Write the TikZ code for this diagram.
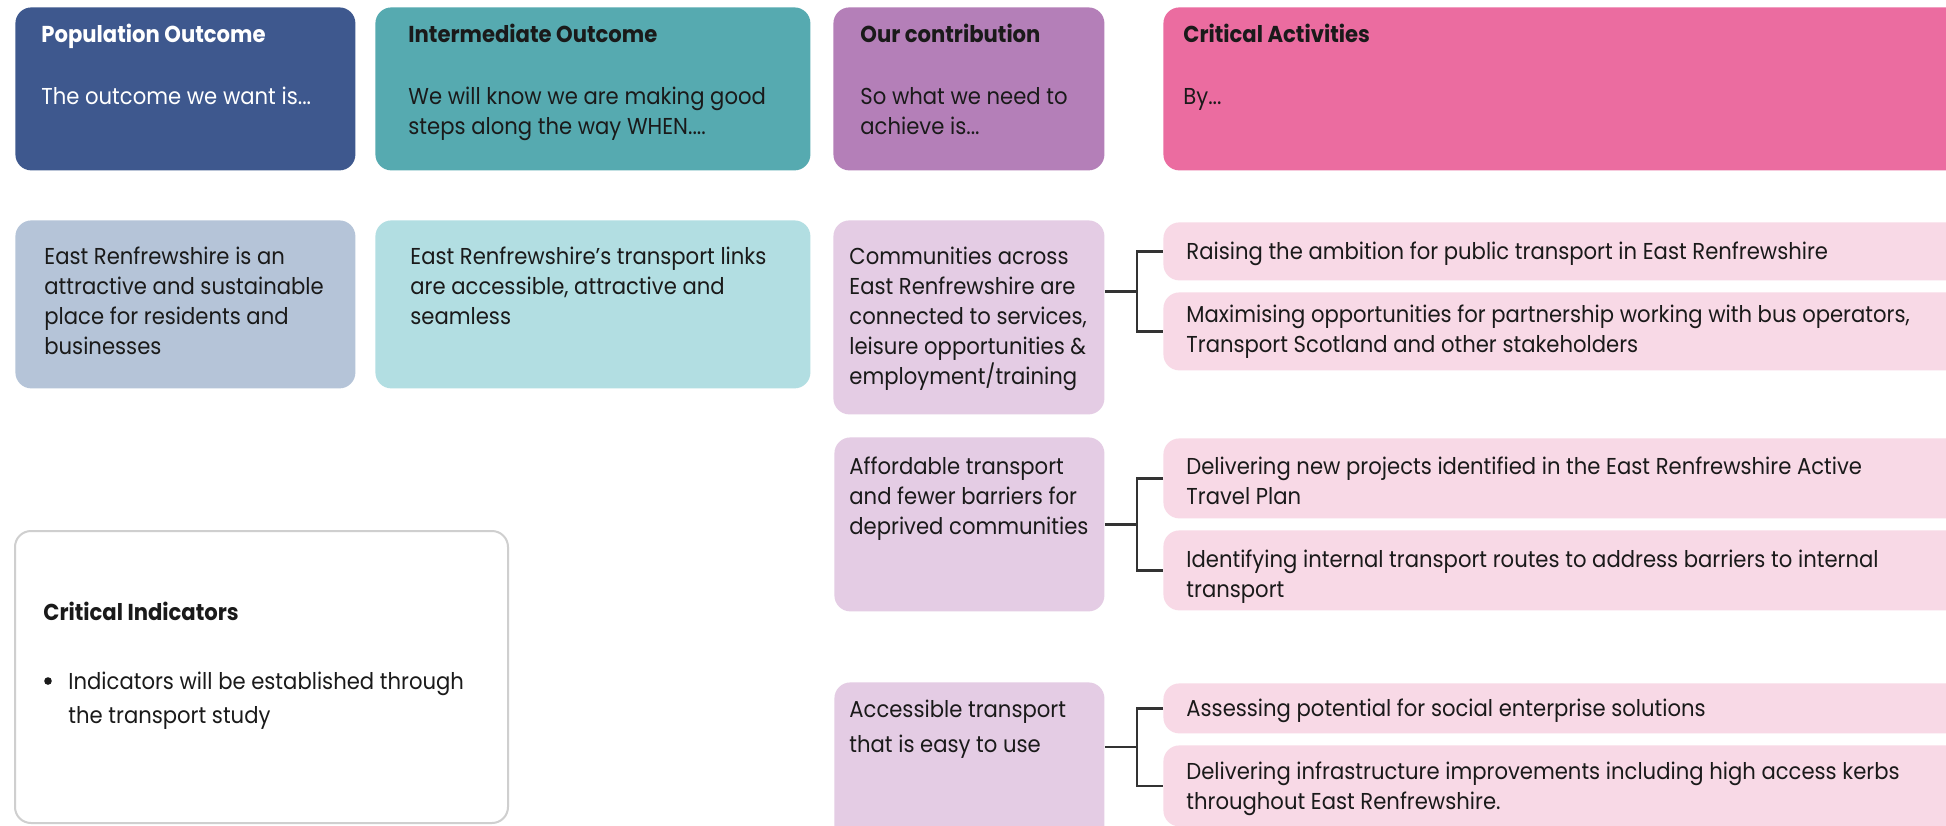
\documentclass[tikz,border=0pt]{standalone}
\usepackage{fontspec}
\setmainfont{Poppins}[FakeStretch=0.92]
\usetikzlibrary{calc}

\definecolor{popdark}{HTML}{3E588E}
\definecolor{intdark}{HTML}{56AAB0}
\definecolor{condark}{HTML}{B47FB8}
\definecolor{actdark}{HTML}{EB6CA0}
\definecolor{poplight}{HTML}{B5C4D8}
\definecolor{intlight}{HTML}{B2DEE2}
\definecolor{conlight}{HTML}{E4CCE4}
\definecolor{actlight}{HTML}{F8D9E6}
\definecolor{ink}{HTML}{1A1A1A}
\definecolor{rimgrey}{HTML}{CFCFCF}
\definecolor{linkgrey}{HTML}{333333}

\newcommand\bodyfont{\fontsize{11.5}{15}\selectfont}
% a rounded panel given by its corners (x1,y1)-(x2,y2) in picture units
\newcommand\panel[7][]{\node[panelbox, fill=#7, minimum width={(#4-#2)*0.5pt},
  minimum height={(#5-#3)*0.5pt}, #1] (#6) at (#2,#3) {};}

\begin{document}
\begin{tikzpicture}[x=0.5pt, y=-0.5pt,
  panelbox/.style={rectangle, rounded corners=8pt, inner sep=0pt, anchor=north west, draw=none},
  txt/.style={anchor=north west, inner sep=0pt, align=left, font=\bodyfont, text=ink},
  head/.style={txt, font=\bodyfont\bfseries},
  link/.style={draw=linkgrey, line width=1.1pt}]

\fill[white] (0,0) rectangle (1946,825);
\useasboundingbox (0,0) rectangle (1946,825);

% header row
\panel{15}{7}{355}{170}{popH}{popdark}
\panel{375}{7}{810}{170}{intH}{intdark}
\panel{833}{7}{1104}{170}{conH}{condark}
\panel{1163}{7}{1985}{170}{actH}{actdark}

\node[head, text=white] (popT) at (41,21.5) {\strut Population Outcome};
\node[txt, text=white] (popS) at (41,83.5) {\strut The outcome we want is...};
\node[head] (intT) at (408,21.5) {\strut Intermediate Outcome};
\node[txt] (intS) at (408,83.5) {\strut We will know we are making good\\ steps along the way WHEN....};
\node[head] (conT) at (860,21.5) {\strut Our contribution};
\node[txt] (conS) at (860,83.5) {\strut So what we need to\\ achieve is...};
\node[head] (actT) at (1183,21.5) {\strut Critical Activities};
\node[txt] (actS) at (1183,83.5) {\strut By...};

% outcome row
\panel{15}{220}{355}{388}{popB}{poplight}
\panel{375}{220}{810}{388}{intB}{intlight}
\node[txt] (popBt) at (44,243.5) {\strut East Renfrewshire is an\\ attractive and sustainable\\ place for residents and\\ businesses};
\node[txt] (intBt) at (410,243.5) {\strut East Renfrewshire’s transport links\\ are accessible, attractive and\\ seamless};

% contributions
\panel{833}{220}{1104}{414}{con1}{conlight}
\panel{834}{437}{1104}{611}{con2}{conlight}
\panel{834}{682}{1104}{870}{con3}{conlight}
\node[txt] (con1t) at (849,243.5) {\strut Communities across\\ East Renfrewshire are\\ connected to services,\\ leisure opportunities \&\\ employment/training};
\node[txt] (con2t) at (849,453.5) {\strut Affordable transport\\ and fewer barriers for\\ deprived communities};
\node[txt] (con3t) at (849,696.5) {\strut Accessible transport\\[2.5pt] that is easy to use};

% activities
\panel{1163}{222}{1985}{280}{a1}{actlight}
\panel{1163}{292}{1985}{370}{a2}{actlight}
\panel{1163}{438}{1985}{518}{a3}{actlight}
\panel{1163}{530}{1985}{610}{a4}{actlight}
\panel{1163}{683}{1985}{733}{a5}{actlight}
\panel{1163}{745}{1985}{826}{a6}{actlight}
\node[txt] (a1t) at (1186,238.5) {\strut Raising the ambition for public transport in East Renfrewshire};
\node[txt] (a2t) at (1186,301.5) {\strut Maximising opportunities for partnership working with bus operators,\\ Transport Scotland and other stakeholders};
\node[txt] (a3t) at (1186,453.5) {\strut Delivering new projects identified in the East Renfrewshire Active\\ Travel Plan};
\node[txt] (a4t) at (1186,546.5) {\strut Identifying internal transport routes to address barriers to internal\\ transport};
\node[txt] (a5t) at (1186,695.5) {\strut Assessing potential for social enterprise solutions};
\node[txt] (a6t) at (1186,758.5) {\strut Delivering infrastructure improvements including high access kerbs\\ throughout East Renfrewshire.};

% brackets joining each contribution to its activities
\foreach \c/\u/\l/\k in {con1/a1/a2/k1, con2/a3/a4/k2, con3/a5/a6/k3}{
  \coordinate (\k) at ($(\u.west)!0.5!(\l.west)+(-26,0)$);
  \draw[link] (\u.west) -- ++(-26,0) |- (\l.west);
  \draw[link] (\c.east |- \k) -- (\k);
}

% indicators
\panel[draw=rimgrey, line width=1pt]{14}{530}{507}{822}{ind}{white}
\node[head] (indT) at (43,599.5) {\strut Critical Indicators};
\node[circle, fill=ink, inner sep=0pt, minimum size=3.8pt] (indB) at (48,681) {};
\node[txt, font=\fontsize{11.5}{17}\selectfont] (indX) at (68,665.5) {\strut Indicators will be established through\\ the transport study};

\end{tikzpicture}
\end{document}
